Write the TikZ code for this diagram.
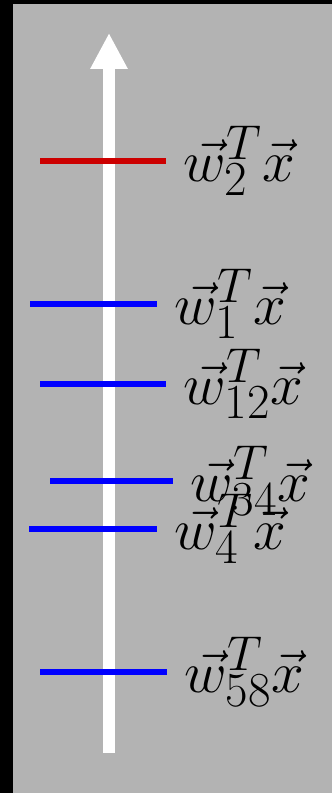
\documentclass[tikz,border=0pt]{standalone}
\usepackage{tikz}
\usetikzlibrary{arrows.meta}
\definecolor{bggray}{RGB}{179,179,179}
\definecolor{hyred}{RGB}{204,0,0}
\tikzset{
  hyline/.style={line width=6pt,blue},
  hylabel/.style={anchor=west,font=\Huge,scale=2.36,xshift=4pt}
}
\begin{document}
\begin{tikzpicture}[x=1pt,y=1pt]
        \useasboundingbox (0,0) rectangle (332,793);
        \fill[black] (0,0) rectangle (332,793);
        \fill[bggray] (13,0) rectangle (332,789);
        % axis
        \coordinate (bottom) at (109,40);
        \coordinate (top) at (109,760);
        \draw[white,line width=12pt,-{Triangle[length=36pt,width=35pt]}] (bottom) -- (top);
        % hyperplanes
        \coordinate (w2a) at (40,632);
        \coordinate (w2b) at (166,632);
        \coordinate (w1a) at (30,489);
        \coordinate (w1b) at (157,489);
        \coordinate (w12a) at (40,409);
        \coordinate (w12b) at (166,409);
        \coordinate (w34a) at (50,312);
        \coordinate (w34b) at (173,312);
        \coordinate (w4a) at (29,264);
        \coordinate (w4b) at (157,264);
        \coordinate (w58a) at (40,121);
        \coordinate (w58b) at (167,121);
        \draw[hyline,hyred] (w2a) -- (w2b);
        \draw[hyline] (w1a) -- (w1b);
        \draw[hyline] (w12a) -- (w12b);
        \draw[hyline] (w34a) -- (w34b);
        \draw[hyline] (w4a) -- (w4b);
        \draw[hyline] (w58a) -- (w58b);
        % labels
        \node[hylabel] (lw2) at (w2b) {$\vec{w}_2^T\vec{x}$};
        \node[hylabel] (lw1) at (w1b) {$\vec{w}_1^T\vec{x}$};
        \node[hylabel] (lw12) at (w12b) {$\vec{w}_{12}^T\vec{x}$};
        \node[hylabel] (lw34) at (w34b) {$\vec{w}_{34}^T\vec{x}$};
        \node[hylabel] (lw4) at (w4b) {$\vec{w}_4^T\vec{x}$};
        \node[hylabel] (lw58) at (w58b) {$\vec{w}_{58}^T\vec{x}$};
\end{tikzpicture}
\end{document}
